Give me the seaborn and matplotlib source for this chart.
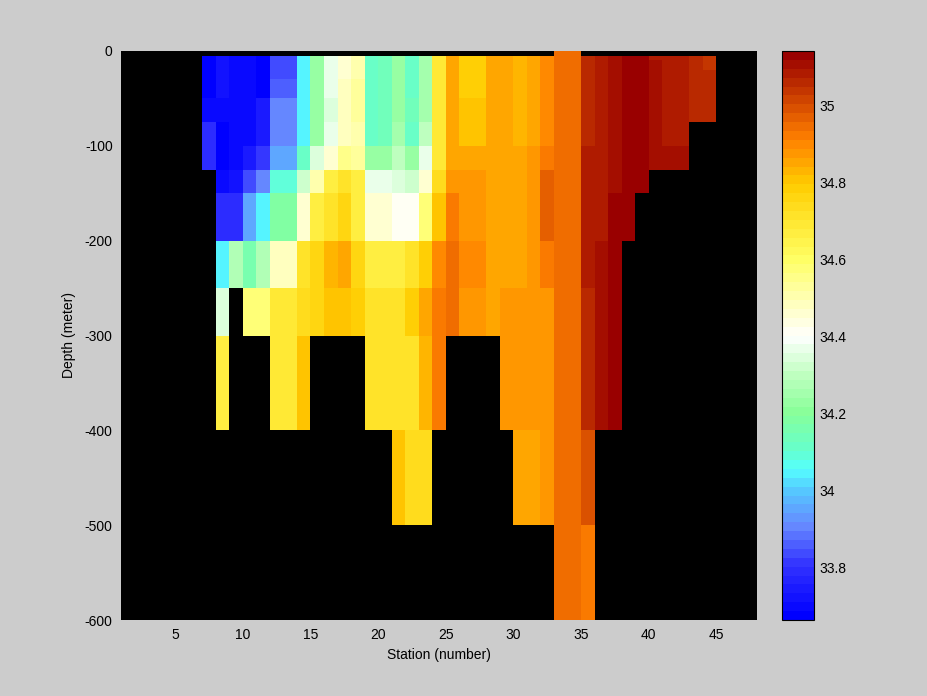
import numpy as np
import matplotlib
matplotlib.use("Agg")
import matplotlib.pyplot as plt
import seaborn as sns
from matplotlib.colors import LinearSegmentedColormap, Normalize
from matplotlib.ticker import FormatStrFormatter

N = np.nan

# depth cell edges (m) and station numbers (cell left edges)
depth_edges = [0, 5, 10, 20, 30, 50, 75, 100, 125, 150, 200, 250, 300, 400, 500, 600]
stations = [7, 8, 9, 10, 11, 12, 13, 14, 15, 16, 17, 18, 19, 20, 21, 22, 23, 24, 25,
            26, 27, 28, 29, 30, 31, 32, 33, 34, 35, 36, 37, 38, 39, 40, 41, 42, 43, 44]

# salinity profiles, one list per station, one value per depth cell
s07 = [N, 33.67, 33.67, 33.67, 33.67, 33.71, 33.78, 33.78, N, N, N, N, N, N, N]
s08 = [N, 33.73, 33.73, 33.73, 33.73, 33.71, 33.67, 33.67, 33.71, 33.80, 34.05, 34.35, 34.67, N, N]
s09 = [N, 33.71, 33.71, 33.71, 33.71, 33.71, 33.71, 33.71, 33.73, 33.80, 34.265, N, N, N, N]
s10 = [N, 33.71, 33.71, 33.71, 33.71, 33.71, 33.71, 33.755, 33.84, 33.95, 34.15, 34.58, N, N, N]
s11 = [N, 33.67, 33.67, 33.67, 33.67, 33.755, 33.755, 33.82, 33.90, 34.05, 34.265, 34.57, N, N, N]
s12 = [N, 33.84, 33.84, 33.84, 33.86, 33.895, 33.90, 33.95, 34.08, 34.19, 34.49, 34.70, 34.70, N, N]
s13 = [N, 33.84, 33.84, 33.84, 33.86, 33.895, 33.90, 33.95, 34.08, 34.19, 34.49, 34.70, 34.70, N, N]
s14 = [N, 34.05, 34.05, 34.05, 34.05, 34.05, 34.05, 34.12, 34.32, 34.465, 34.72, 34.745, 34.81, N, N]
s15 = [N, 34.23, 34.23, 34.23, 34.23, 34.23, 34.23, 34.35, 34.51, 34.67, 34.76, 34.76, N, N, N]
s16 = [N, 34.375, 34.375, 34.375, 34.375, 34.35, 34.375, 34.465, 34.67, 34.72, 34.84, 34.80, N, N, N]
s17 = [N, 34.465, 34.465, 34.465, 34.49, 34.49, 34.49, 34.555, 34.71, 34.76, 34.86, 34.80, N, N, N]
s18 = [N, 34.51, 34.51, 34.51, 34.535, 34.535, 34.51, 34.52, 34.67, 34.675, 34.76, 34.78, N, N, N]
s19 = [N, 34.12, 34.12, 34.12, 34.12, 34.12, 34.12, 34.23, 34.375, 34.45, 34.67, 34.725, 34.725, N, N]
s20 = [N, 34.13, 34.13, 34.13, 34.13, 34.13, 34.13, 34.23, 34.375, 34.465, 34.67, 34.725, 34.725, N, N]
s21 = [N, 34.23, 34.23, 34.23, 34.23, 34.23, 34.255, 34.29, 34.35, 34.42, 34.67, 34.725, 34.71, 34.80, N]
s22 = [N, 34.12, 34.12, 34.12, 34.12, 34.13, 34.12, 34.23, 34.32, 34.42, 34.71, 34.785, 34.725, 34.745, N]
s23 = [N, 34.255, 34.255, 34.255, 34.255, 34.255, 34.29, 34.375, 34.465, 34.58, 34.785, 34.85, 34.83, 34.745, N]
s24 = [N, 34.70, 34.70, 34.70, 34.70, 34.70, 34.70, 34.70, 34.745, 34.80, 34.90, 34.92, 34.92, N, N]
s25 = [N, 34.85, 34.85, 34.85, 34.85, 34.85, 34.85, 34.85, 34.88, 34.92, 34.95, 34.95, N, N, N]
s26 = [N, 34.785, 34.785, 34.785, 34.785, 34.81, 34.81, 34.85, 34.87, 34.88, 34.90, 34.88, N, N, N]
s27 = [N, 34.785, 34.785, 34.785, 34.785, 34.81, 34.81, 34.85, 34.87, 34.88, 34.90, 34.88, N, N, N]
s28 = [N, 34.85, 34.85, 34.85, 34.85, 34.85, 34.86, 34.86, 34.86, 34.86, 34.86, 34.85, N, N, N]
s29 = [N, 34.85, 34.85, 34.85, 34.85, 34.85, 34.85, 34.86, 34.86, 34.86, 34.86, 34.87, 34.87, N, N]
s30 = [N, 34.83, 34.83, 34.83, 34.83, 34.83, 34.83, 34.85, 34.86, 34.86, 34.86, 34.87, 34.87, 34.86, N]
s31 = [N, 34.85, 34.85, 34.85, 34.85, 34.85, 34.85, 34.87, 34.88, 34.88, 34.88, 34.88, 34.87, 34.86, N]
s32 = [N, 34.90, 34.90, 34.90, 34.90, 34.90, 34.90, 34.92, 34.97, 34.97, 34.92, 34.88, 34.88, 34.88, N]
s33 = [34.95, 34.95, 34.95, 34.95, 34.95, 34.95, 34.95, 34.95, 34.95, 34.95, 34.95, 34.95, 34.95, 34.95, 34.95]
s34 = [34.95, 34.95, 34.95, 34.95, 34.95, 34.95, 34.95, 34.95, 34.95, 34.95, 34.95, 34.95, 34.95, 34.95, 34.95]
s35 = [N, 35.06, 35.06, 35.06, 35.06, 35.06, 35.06, 35.08, 35.08, 35.08, 35.08, 35.06, 35.06, 34.99, 34.92]
s36 = [N, 35.08, 35.08, 35.08, 35.08, 35.08, 35.08, 35.08, 35.08, 35.08, 35.11, 35.11, 35.11, N, N]
s37 = [N, 35.11, 35.11, 35.11, 35.11, 35.11, 35.11, 35.11, 35.11, 35.13, 35.13, 35.13, 35.13, N, N]
s38 = [N, 35.13, 35.13, 35.13, 35.13, 35.13, 35.13, 35.13, 35.13, 35.13, N, N, N, N, N]
s39 = [N, 35.13, 35.13, 35.13, 35.13, 35.13, 35.13, 35.13, 35.13, N, N, N, N, N, N]
s40 = [N, 35.08, 35.11, 35.11, 35.11, 35.11, 35.11, 35.11, N, N, N, N, N, N, N]
s41 = [N, 35.08, 35.08, 35.08, 35.08, 35.08, 35.08, 35.11, N, N, N, N, N, N, N]
s42 = [N, 35.08, 35.08, 35.08, 35.08, 35.08, 35.08, 35.11, N, N, N, N, N, N, N]
s43 = [N, 35.06, 35.06, 35.06, 35.06, 35.06, N, N, N, N, N, N, N, N, N]
s44 = [N, 35.04, 35.04, 35.06, 35.06, 35.06, N, N, N, N, N, N, N, N, N]

profiles = [s07, s08, s09, s10, s11, s12, s13, s14, s15, s16, s17, s18, s19, s20,
            s21, s22, s23, s24, s25, s26, s27, s28, s29, s30, s31, s32, s33, s34,
            s35, s36, s37, s38, s39, s40, s41, s42, s43, s44]

color_limits = [33.664, 35.141]
cbar_ticks = [33.8, 34.0, 34.2, 34.4, 34.6, 34.8, 35.0]
x_ticks = [5, 10, 15, 20, 25, 30, 35, 40, 45]
y_ticks = [-600, -500, -400, -300, -200, -100, 0]

# colormap anchors (salinity value, colour)
anchor_vals = [33.664, 33.80, 33.90, 34.00, 34.05, 34.10, 34.20, 34.30, 34.40,
               34.50, 34.60, 34.70, 34.80, 34.92, 35.141]
anchor_cols = ["#0000ff", "#3333ff", "#6688ff", "#55ccff", "#55ffff", "#66ffcc",
               "#88ff99", "#c0ffc0", "#ffffff", "#ffffb3", "#ffff66", "#ffe833",
               "#ffcc00", "#ff8000", "#990000"]

sns.set_theme(style="ticks")
plt.rcParams["font.family"] = ["Liberation Sans", "DejaVu Sans"]
plt.rcParams["axes.unicode_minus"] = False

lo, hi = color_limits
pos = [(v - lo) / (hi - lo) for v in anchor_vals]
cmap = LinearSegmentedColormap.from_list("sal", list(zip(pos, anchor_cols))).resampled(64)
norm = Normalize(vmin=lo, vmax=hi)

Z = np.ma.masked_invalid(np.array(profiles, dtype=float).T)
x_edges = np.append(stations, stations[-1] + 1)
y_edges = -np.array(depth_edges, dtype=float)

fig = plt.figure(figsize=(9.28, 6.96), dpi=100, facecolor="#cccccc")
ax = fig.add_axes([121 / 928, 76 / 696, 636 / 928, 569 / 696])
ax.set_facecolor("black")
mesh = ax.pcolormesh(x_edges, y_edges, Z, cmap=cmap, norm=norm, shading="flat")

ax.set_xlim(1, 48)
ax.set_ylim(-600, 0)
ax.set_xticks(x_ticks)
ax.set_yticks(y_ticks)
ax.tick_params(direction="in", length=0, colors="black", labelsize=10, pad=6)
for sp in ax.spines.values():
    sp.set_visible(False)
ax.set_xlabel("Station (number)", fontsize=10, color="black", labelpad=4)
ax.set_ylabel("Depth (meter)", fontsize=10, color="black", labelpad=6)

cax = fig.add_axes([782 / 928, 76 / 696, 32 / 928, 569 / 696])
cb = fig.colorbar(mesh, cax=cax)
cb.set_ticks(cbar_ticks)
cb.ax.yaxis.set_major_formatter(FormatStrFormatter("%g"))
cb.ax.tick_params(direction="in", length=5, colors="black", labelsize=10, pad=4,
                  left=True, right=True, width=0.8)
cb.outline.set_edgecolor("black")
cb.outline.set_linewidth(0.8)

fig.savefig("out.png", dpi=100, facecolor=fig.get_facecolor())
